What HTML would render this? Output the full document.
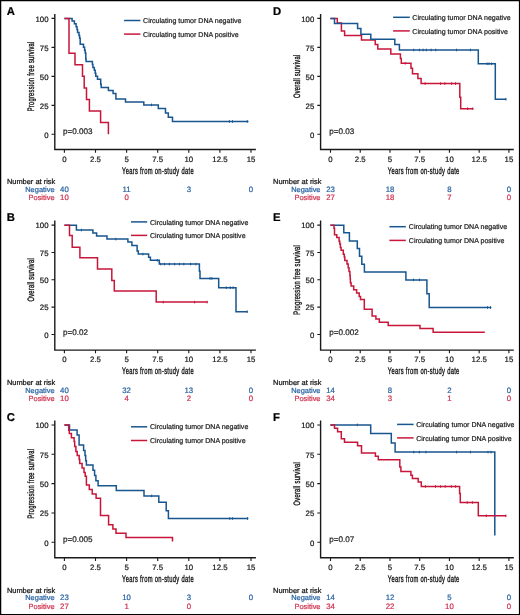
<!DOCTYPE html>
<html><head><meta charset="utf-8"><title>Kaplan-Meier curves</title>
<style>html,body{margin:0;padding:0;background:#fff;}body{width:520px;height:615px;overflow:hidden;font-family:"Liberation Sans",sans-serif;}svg{display:block;will-change:transform;}</style>
</head><body>
<svg width="520" height="615" viewBox="0 0 520 615" font-family="'Liberation Sans', sans-serif" text-rendering="geometricPrecision">
<rect x="0" y="0" width="520" height="615" fill="#fff"/>
<g><text stroke-linejoin="round" stroke-width="0.22" stroke="#000" x="6.8" y="14.8" font-size="11.3" font-weight="bold" fill="#000">A</text><path d="M54.8,14.7 V149.5 H255.2" fill="none" stroke="#1a1a1a" stroke-width="1.4" stroke-linecap="square"/><path d="M51.5,134.3 H54.8 M51.5,105.33 H54.8 M51.5,76.35 H54.8 M51.5,47.38 H54.8 M51.5,18.4 H54.8 M64.4,149.5 V152.7 M95.5,149.5 V152.7 M126.6,149.5 V152.7 M157.7,149.5 V152.7 M188.8,149.5 V152.7 M219.9,149.5 V152.7 M251,149.5 V152.7" stroke="#1a1a1a" stroke-width="1.1" fill="none"/><text stroke-linejoin="round" stroke-width="0.22" stroke="#1a1a1a" x="48.5" y="137.5" font-size="7.8" text-anchor="end" fill="#1a1a1a">0</text><text stroke-linejoin="round" stroke-width="0.22" stroke="#1a1a1a" x="48.5" y="108.53" font-size="7.8" text-anchor="end" fill="#1a1a1a">25</text><text stroke-linejoin="round" stroke-width="0.22" stroke="#1a1a1a" x="48.5" y="79.55" font-size="7.8" text-anchor="end" fill="#1a1a1a">50</text><text stroke-linejoin="round" stroke-width="0.22" stroke="#1a1a1a" x="48.5" y="50.58" font-size="7.8" text-anchor="end" fill="#1a1a1a">75</text><text stroke-linejoin="round" stroke-width="0.22" stroke="#1a1a1a" x="48.5" y="21.6" font-size="7.8" text-anchor="end" fill="#1a1a1a">100</text><text stroke-linejoin="round" stroke-width="0.22" stroke="#1a1a1a" x="64.4" y="161.6" font-size="7.8" text-anchor="middle" fill="#1a1a1a">0</text><text stroke-linejoin="round" stroke-width="0.22" stroke="#1a1a1a" x="95.5" y="161.6" font-size="7.8" text-anchor="middle" fill="#1a1a1a">2.5</text><text stroke-linejoin="round" stroke-width="0.22" stroke="#1a1a1a" x="126.6" y="161.6" font-size="7.8" text-anchor="middle" fill="#1a1a1a">5</text><text stroke-linejoin="round" stroke-width="0.22" stroke="#1a1a1a" x="157.7" y="161.6" font-size="7.8" text-anchor="middle" fill="#1a1a1a">7.5</text><text stroke-linejoin="round" stroke-width="0.22" stroke="#1a1a1a" x="188.8" y="161.6" font-size="7.8" text-anchor="middle" fill="#1a1a1a">10</text><text stroke-linejoin="round" stroke-width="0.22" stroke="#1a1a1a" x="219.9" y="161.6" font-size="7.8" text-anchor="middle" fill="#1a1a1a">12.5</text><text stroke-linejoin="round" stroke-width="0.22" stroke="#1a1a1a" x="251" y="161.6" font-size="7.8" text-anchor="middle" fill="#1a1a1a">15</text><text transform="translate(33.8,76.35) rotate(-90) scale(0.61,1)" font-size="9.4" font-weight="normal" letter-spacing="0.45" stroke="#1a1a1a" stroke-width="0.38" text-anchor="middle" fill="#1a1a1a">Progression free survival</text><text transform="translate(158,173.8) scale(0.605,1)" font-size="9.6" font-weight="normal" letter-spacing="0.5" stroke="#1a1a1a" stroke-width="0.4" text-anchor="middle" fill="#1a1a1a">Years from on-study date</text><path d="M124.1,20.5 H140.4" stroke="#18568f" stroke-width="1.5"/><path d="M124.1,34.1 H140.4" stroke="#c8163a" stroke-width="1.5"/><text stroke-linejoin="round" stroke-width="0.22" stroke="#222" x="143.1" y="23.1" font-size="7.05" fill="#222">Circulating tumor DNA negative</text><text stroke-linejoin="round" stroke-width="0.22" stroke="#222" x="143.1" y="36.7" font-size="7.05" fill="#222">Circulating tumor DNA positive</text><text stroke-linejoin="round" stroke-width="0.22" stroke="#222" x="63.1" y="134.3" font-size="8.1" fill="#222">p=0.003</text><text stroke-linejoin="round" stroke-width="0.22" stroke="#111" x="6.9" y="184.3" font-size="7.45" fill="#111">Number at risk</text><text stroke-linejoin="round" stroke-width="0.22" stroke="#2a64a2" x="54.6" y="192" font-size="7.45" text-anchor="end" fill="#2a64a2">Negative</text><text stroke-linejoin="round" stroke-width="0.22" stroke="#d03350" x="54.6" y="200.3" font-size="7.45" text-anchor="end" fill="#d03350">Positive</text><text stroke-linejoin="round" stroke-width="0.22" stroke="#2a64a2" x="64.4" y="192" font-size="7.8" text-anchor="middle" fill="#2a64a2">40</text><text stroke-linejoin="round" stroke-width="0.22" stroke="#d03350" x="64.4" y="200.3" font-size="7.8" text-anchor="middle" fill="#d03350">10</text><text stroke-linejoin="round" stroke-width="0.22" stroke="#2a64a2" x="126.6" y="192" font-size="7.8" text-anchor="middle" fill="#2a64a2">11</text><text stroke-linejoin="round" stroke-width="0.22" stroke="#d03350" x="126.6" y="200.3" font-size="7.8" text-anchor="middle" fill="#d03350">0</text><text stroke-linejoin="round" stroke-width="0.22" stroke="#2a64a2" x="188.8" y="192" font-size="7.8" text-anchor="middle" fill="#2a64a2">3</text><text stroke-linejoin="round" stroke-width="0.22" stroke="#2a64a2" x="251" y="192" font-size="7.8" text-anchor="middle" fill="#2a64a2">0</text><path d="M64.4,18.4 H72.1 V20.9 H74.4 V23.8 H76.1 V26.7 H77.0 V29.6 H77.6 V32.5 H79.0 V35.4 H79.6 V38.3 H80.2 V44.2 H83.5 V47.3 H84.6 V50.2 H85.2 V53.1 H85.8 V58.9 H86.1 V61.4 H92.4 V64.4 H92.9 V67.4 H94.3 V70.3 H95.2 V73.2 H95.8 V76.3 H97.5 V79.3 H100.7 V84.2 H101.2 V87.4 H108.4 V90.4 H113.1 V93.4 H115.9 V99.0 H125.5 V101.9 H143.8 V104.9 H158.3 V108.5 H165.5 V113.1 H168.3 V117.2 H172.5 V121.5 H248.5" fill="none" stroke="#18568f" stroke-width="1.5" stroke-linejoin="miter" stroke-linecap="butt"/><path d="M151.5,103.6 V106.2 M229.4,120.2 V122.8 M232.5,120.2 V122.8 M247.3,120.2 V122.8" stroke="#18568f" stroke-width="1.0" fill="none"/><path d="M64.4,18.4 H69.0 V53.2 H75.0 V64.8 H82.5 V76.3 H84.2 V87.9 H86.5 V99.5 H89.4 V111.1 H100.6 V122.6 H108.4 V134.3" fill="none" stroke="#c8163a" stroke-width="1.5" stroke-linejoin="miter" stroke-linecap="butt"/></g>
<g><text stroke-linejoin="round" stroke-width="0.22" stroke="#000" x="6.8" y="221.1" font-size="11.3" font-weight="bold" fill="#000">B</text><path d="M54.8,221.2 V350.1 H255.2" fill="none" stroke="#1a1a1a" stroke-width="1.4" stroke-linecap="square"/><path d="M51.5,334.5 H54.8 M51.5,307.15 H54.8 M51.5,279.8 H54.8 M51.5,252.45 H54.8 M51.5,225.1 H54.8 M64.4,350.1 V353.3 M95.5,350.1 V353.3 M126.6,350.1 V353.3 M157.7,350.1 V353.3 M188.8,350.1 V353.3 M219.9,350.1 V353.3 M251,350.1 V353.3" stroke="#1a1a1a" stroke-width="1.1" fill="none"/><text stroke-linejoin="round" stroke-width="0.22" stroke="#1a1a1a" x="48.5" y="337.7" font-size="7.8" text-anchor="end" fill="#1a1a1a">0</text><text stroke-linejoin="round" stroke-width="0.22" stroke="#1a1a1a" x="48.5" y="310.35" font-size="7.8" text-anchor="end" fill="#1a1a1a">25</text><text stroke-linejoin="round" stroke-width="0.22" stroke="#1a1a1a" x="48.5" y="283" font-size="7.8" text-anchor="end" fill="#1a1a1a">50</text><text stroke-linejoin="round" stroke-width="0.22" stroke="#1a1a1a" x="48.5" y="255.65" font-size="7.8" text-anchor="end" fill="#1a1a1a">75</text><text stroke-linejoin="round" stroke-width="0.22" stroke="#1a1a1a" x="48.5" y="228.3" font-size="7.8" text-anchor="end" fill="#1a1a1a">100</text><text stroke-linejoin="round" stroke-width="0.22" stroke="#1a1a1a" x="64.4" y="362.2" font-size="7.8" text-anchor="middle" fill="#1a1a1a">0</text><text stroke-linejoin="round" stroke-width="0.22" stroke="#1a1a1a" x="95.5" y="362.2" font-size="7.8" text-anchor="middle" fill="#1a1a1a">2.5</text><text stroke-linejoin="round" stroke-width="0.22" stroke="#1a1a1a" x="126.6" y="362.2" font-size="7.8" text-anchor="middle" fill="#1a1a1a">5</text><text stroke-linejoin="round" stroke-width="0.22" stroke="#1a1a1a" x="157.7" y="362.2" font-size="7.8" text-anchor="middle" fill="#1a1a1a">7.5</text><text stroke-linejoin="round" stroke-width="0.22" stroke="#1a1a1a" x="188.8" y="362.2" font-size="7.8" text-anchor="middle" fill="#1a1a1a">10</text><text stroke-linejoin="round" stroke-width="0.22" stroke="#1a1a1a" x="219.9" y="362.2" font-size="7.8" text-anchor="middle" fill="#1a1a1a">12.5</text><text stroke-linejoin="round" stroke-width="0.22" stroke="#1a1a1a" x="251" y="362.2" font-size="7.8" text-anchor="middle" fill="#1a1a1a">15</text><text transform="translate(33.8,279.8) rotate(-90) scale(0.61,1)" font-size="9.4" font-weight="normal" letter-spacing="0.45" stroke="#1a1a1a" stroke-width="0.38" text-anchor="middle" fill="#1a1a1a">Overall survival</text><text transform="translate(158,374.4) scale(0.605,1)" font-size="9.6" font-weight="normal" letter-spacing="0.5" stroke="#1a1a1a" stroke-width="0.4" text-anchor="middle" fill="#1a1a1a">Years from on-study date</text><path d="M131,221.9 H147.2" stroke="#18568f" stroke-width="1.5"/><path d="M131,235.4 H147.2" stroke="#c8163a" stroke-width="1.5"/><text stroke-linejoin="round" stroke-width="0.22" stroke="#222" x="150" y="224.5" font-size="7.05" fill="#222">Circulating tumor DNA negative</text><text stroke-linejoin="round" stroke-width="0.22" stroke="#222" x="150" y="238" font-size="7.05" fill="#222">Circulating tumor DNA positive</text><text stroke-linejoin="round" stroke-width="0.22" stroke="#222" x="63.1" y="334.5" font-size="8.1" fill="#222">p=0.02</text><text stroke-linejoin="round" stroke-width="0.22" stroke="#111" x="6.9" y="384.9" font-size="7.45" fill="#111">Number at risk</text><text stroke-linejoin="round" stroke-width="0.22" stroke="#2a64a2" x="54.6" y="392.6" font-size="7.45" text-anchor="end" fill="#2a64a2">Negative</text><text stroke-linejoin="round" stroke-width="0.22" stroke="#d03350" x="54.6" y="400.9" font-size="7.45" text-anchor="end" fill="#d03350">Positive</text><text stroke-linejoin="round" stroke-width="0.22" stroke="#2a64a2" x="64.4" y="392.6" font-size="7.8" text-anchor="middle" fill="#2a64a2">40</text><text stroke-linejoin="round" stroke-width="0.22" stroke="#d03350" x="64.4" y="400.9" font-size="7.8" text-anchor="middle" fill="#d03350">10</text><text stroke-linejoin="round" stroke-width="0.22" stroke="#2a64a2" x="126.6" y="392.6" font-size="7.8" text-anchor="middle" fill="#2a64a2">32</text><text stroke-linejoin="round" stroke-width="0.22" stroke="#d03350" x="126.6" y="400.9" font-size="7.8" text-anchor="middle" fill="#d03350">4</text><text stroke-linejoin="round" stroke-width="0.22" stroke="#2a64a2" x="188.8" y="392.6" font-size="7.8" text-anchor="middle" fill="#2a64a2">13</text><text stroke-linejoin="round" stroke-width="0.22" stroke="#d03350" x="188.8" y="400.9" font-size="7.8" text-anchor="middle" fill="#d03350">2</text><text stroke-linejoin="round" stroke-width="0.22" stroke="#2a64a2" x="251" y="392.6" font-size="7.8" text-anchor="middle" fill="#2a64a2">0</text><text stroke-linejoin="round" stroke-width="0.22" stroke="#d03350" x="251" y="400.9" font-size="7.8" text-anchor="middle" fill="#d03350">0</text><path d="M64.4,225.2 H76.4 V230.1 H92.9 V232.9 H96.6 V236.1 H107.0 V239.1 H127.9 V242.1 H131.9 V245.5 H137.1 V251.0 H138.3 V254.1 H148.6 V257.3 H150.4 V260.3 H159.3 V264.1 H199.4 V271.3 H200.0 V278.4 H218.7 V287.7 H236.0 V311.7 H247.6" fill="none" stroke="#18568f" stroke-width="1.5" stroke-linejoin="miter" stroke-linecap="butt"/><path d="M81.4,228.8 V231.4 M115.8,237.8 V240.4 M142.9,252.8 V255.4 M157.3,259 V261.6 M160.8,262.8 V265.4 M164.4,262.8 V265.4 M169.4,262.8 V265.4 M174.7,262.8 V265.4 M179.5,262.8 V265.4 M183.8,262.8 V265.4 M190.6,262.8 V265.4 M195.9,262.8 V265.4 M210,277.1 V279.7 M211.9,277.1 V279.7 M226.3,286.4 V289 M230.2,286.4 V289 M233.1,286.4 V289 M247.1,310.4 V313" stroke="#18568f" stroke-width="1.0" fill="none"/><path d="M64.4,225.2 H69.5 V235.6 H72.2 V247.3 H79.9 V257.8 H97.5 V269.0 H111.8 V280.4 H114.3 V291.0 H156.2 V302.1 H207.6" fill="none" stroke="#c8163a" stroke-width="1.5" stroke-linejoin="miter" stroke-linecap="butt"/><path d="M163.2,300.8 V303.4 M194.6,300.8 V303.4 M207.1,300.8 V303.4" stroke="#c8163a" stroke-width="1.0" fill="none"/></g>
<g><text stroke-linejoin="round" stroke-width="0.22" stroke="#000" x="6.8" y="421" font-size="11.3" font-weight="bold" fill="#000">C</text><path d="M54.8,421.2 V557.7 H255.2" fill="none" stroke="#1a1a1a" stroke-width="1.4" stroke-linecap="square"/><path d="M51.5,542.3 H54.8 M51.5,512.97 H54.8 M51.5,483.65 H54.8 M51.5,454.32 H54.8 M51.5,425 H54.8 M64.4,557.7 V560.9 M95.5,557.7 V560.9 M126.6,557.7 V560.9 M157.7,557.7 V560.9 M188.8,557.7 V560.9 M219.9,557.7 V560.9 M251,557.7 V560.9" stroke="#1a1a1a" stroke-width="1.1" fill="none"/><text stroke-linejoin="round" stroke-width="0.22" stroke="#1a1a1a" x="48.5" y="545.5" font-size="7.8" text-anchor="end" fill="#1a1a1a">0</text><text stroke-linejoin="round" stroke-width="0.22" stroke="#1a1a1a" x="48.5" y="516.17" font-size="7.8" text-anchor="end" fill="#1a1a1a">25</text><text stroke-linejoin="round" stroke-width="0.22" stroke="#1a1a1a" x="48.5" y="486.85" font-size="7.8" text-anchor="end" fill="#1a1a1a">50</text><text stroke-linejoin="round" stroke-width="0.22" stroke="#1a1a1a" x="48.5" y="457.52" font-size="7.8" text-anchor="end" fill="#1a1a1a">75</text><text stroke-linejoin="round" stroke-width="0.22" stroke="#1a1a1a" x="48.5" y="428.2" font-size="7.8" text-anchor="end" fill="#1a1a1a">100</text><text stroke-linejoin="round" stroke-width="0.22" stroke="#1a1a1a" x="64.4" y="569.8" font-size="7.8" text-anchor="middle" fill="#1a1a1a">0</text><text stroke-linejoin="round" stroke-width="0.22" stroke="#1a1a1a" x="95.5" y="569.8" font-size="7.8" text-anchor="middle" fill="#1a1a1a">2.5</text><text stroke-linejoin="round" stroke-width="0.22" stroke="#1a1a1a" x="126.6" y="569.8" font-size="7.8" text-anchor="middle" fill="#1a1a1a">5</text><text stroke-linejoin="round" stroke-width="0.22" stroke="#1a1a1a" x="157.7" y="569.8" font-size="7.8" text-anchor="middle" fill="#1a1a1a">7.5</text><text stroke-linejoin="round" stroke-width="0.22" stroke="#1a1a1a" x="188.8" y="569.8" font-size="7.8" text-anchor="middle" fill="#1a1a1a">10</text><text stroke-linejoin="round" stroke-width="0.22" stroke="#1a1a1a" x="219.9" y="569.8" font-size="7.8" text-anchor="middle" fill="#1a1a1a">12.5</text><text stroke-linejoin="round" stroke-width="0.22" stroke="#1a1a1a" x="251" y="569.8" font-size="7.8" text-anchor="middle" fill="#1a1a1a">15</text><text transform="translate(33.8,483.65) rotate(-90) scale(0.61,1)" font-size="9.4" font-weight="normal" letter-spacing="0.45" stroke="#1a1a1a" stroke-width="0.38" text-anchor="middle" fill="#1a1a1a">Progression free survival</text><text transform="translate(158,582) scale(0.605,1)" font-size="9.6" font-weight="normal" letter-spacing="0.5" stroke="#1a1a1a" stroke-width="0.4" text-anchor="middle" fill="#1a1a1a">Years from on-study date</text><path d="M131,426.8 H147.2" stroke="#18568f" stroke-width="1.5"/><path d="M131,440.5 H147.2" stroke="#c8163a" stroke-width="1.5"/><text stroke-linejoin="round" stroke-width="0.22" stroke="#222" x="150" y="429.4" font-size="7.05" fill="#222">Circulating tumor DNA negative</text><text stroke-linejoin="round" stroke-width="0.22" stroke="#222" x="150" y="443.1" font-size="7.05" fill="#222">Circulating tumor DNA positive</text><text stroke-linejoin="round" stroke-width="0.22" stroke="#222" x="63.1" y="542.3" font-size="8.1" fill="#222">p=0.005</text><text stroke-linejoin="round" stroke-width="0.22" stroke="#111" x="6.9" y="592.5" font-size="7.45" fill="#111">Number at risk</text><text stroke-linejoin="round" stroke-width="0.22" stroke="#2a64a2" x="54.6" y="600.2" font-size="7.45" text-anchor="end" fill="#2a64a2">Negative</text><text stroke-linejoin="round" stroke-width="0.22" stroke="#d03350" x="54.6" y="608.5" font-size="7.45" text-anchor="end" fill="#d03350">Positive</text><text stroke-linejoin="round" stroke-width="0.22" stroke="#2a64a2" x="64.4" y="600.2" font-size="7.8" text-anchor="middle" fill="#2a64a2">23</text><text stroke-linejoin="round" stroke-width="0.22" stroke="#d03350" x="64.4" y="608.5" font-size="7.8" text-anchor="middle" fill="#d03350">27</text><text stroke-linejoin="round" stroke-width="0.22" stroke="#2a64a2" x="126.6" y="600.2" font-size="7.8" text-anchor="middle" fill="#2a64a2">10</text><text stroke-linejoin="round" stroke-width="0.22" stroke="#d03350" x="126.6" y="608.5" font-size="7.8" text-anchor="middle" fill="#d03350">1</text><text stroke-linejoin="round" stroke-width="0.22" stroke="#2a64a2" x="188.8" y="600.2" font-size="7.8" text-anchor="middle" fill="#2a64a2">3</text><text stroke-linejoin="round" stroke-width="0.22" stroke="#d03350" x="188.8" y="608.5" font-size="7.8" text-anchor="middle" fill="#d03350">0</text><text stroke-linejoin="round" stroke-width="0.22" stroke="#2a64a2" x="251" y="600.2" font-size="7.8" text-anchor="middle" fill="#2a64a2">0</text><path d="M64.4,425.0 H69.5 V430.0 H77.1 V435.1 H79.1 V445.1 H83.6 V450.4 H85.0 V455.6 H85.7 V460.7 H86.4 V465.1 H93.0 V470.3 H94.6 V475.6 H95.9 V480.8 H98.1 V485.7 H116.3 V490.5 H144.0 V495.9 H158.8 V502.2 H166.2 V510.7 H168.4 V518.5 H248.4" fill="none" stroke="#18568f" stroke-width="1.5" stroke-linejoin="miter" stroke-linecap="butt"/><path d="M151.7,494.6 V497.2 M229.8,517.2 V519.8 M232.6,517.2 V519.8 M247.5,517.2 V519.8" stroke="#18568f" stroke-width="1.0" fill="none"/><path d="M64.4,425.0 H68.7 V430.2 H69.3 V433.5 H71.4 V437.8 H74.1 V441.5 H74.7 V446.4 H75.9 V451.4 H77.2 V455.6 H79.2 V459.5 H79.7 V463.4 H82.1 V468.0 H84.0 V472.5 H85.2 V476.3 H86.4 V485.1 H89.3 V489.5 H92.2 V493.9 H96.1 V498.3 H100.5 V515.6 H108.6 V524.8 H112.9 V528.9 H116.0 V533.2 H126.0 V537.6 H172.5 V541.6" fill="none" stroke="#c8163a" stroke-width="1.5" stroke-linejoin="miter" stroke-linecap="butt"/></g>
<g><text stroke-linejoin="round" stroke-width="0.22" stroke="#000" x="272.9" y="14.8" font-size="11.3" font-weight="bold" fill="#000">D</text><path d="M320.6,14.7 V149.5 H513.1" fill="none" stroke="#1a1a1a" stroke-width="1.4" stroke-linecap="square"/><path d="M317.3,134.3 H320.6 M317.3,105.33 H320.6 M317.3,76.35 H320.6 M317.3,47.38 H320.6 M317.3,18.4 H320.6 M330.5,149.5 V152.7 M360.23,149.5 V152.7 M389.97,149.5 V152.7 M419.7,149.5 V152.7 M449.43,149.5 V152.7 M479.17,149.5 V152.7 M508.9,149.5 V152.7" stroke="#1a1a1a" stroke-width="1.1" fill="none"/><text stroke-linejoin="round" stroke-width="0.22" stroke="#1a1a1a" x="314.3" y="137.5" font-size="7.8" text-anchor="end" fill="#1a1a1a">0</text><text stroke-linejoin="round" stroke-width="0.22" stroke="#1a1a1a" x="314.3" y="108.53" font-size="7.8" text-anchor="end" fill="#1a1a1a">25</text><text stroke-linejoin="round" stroke-width="0.22" stroke="#1a1a1a" x="314.3" y="79.55" font-size="7.8" text-anchor="end" fill="#1a1a1a">50</text><text stroke-linejoin="round" stroke-width="0.22" stroke="#1a1a1a" x="314.3" y="50.58" font-size="7.8" text-anchor="end" fill="#1a1a1a">75</text><text stroke-linejoin="round" stroke-width="0.22" stroke="#1a1a1a" x="314.3" y="21.6" font-size="7.8" text-anchor="end" fill="#1a1a1a">100</text><text stroke-linejoin="round" stroke-width="0.22" stroke="#1a1a1a" x="330.5" y="161.6" font-size="7.8" text-anchor="middle" fill="#1a1a1a">0</text><text stroke-linejoin="round" stroke-width="0.22" stroke="#1a1a1a" x="360.23" y="161.6" font-size="7.8" text-anchor="middle" fill="#1a1a1a">2.5</text><text stroke-linejoin="round" stroke-width="0.22" stroke="#1a1a1a" x="389.97" y="161.6" font-size="7.8" text-anchor="middle" fill="#1a1a1a">5</text><text stroke-linejoin="round" stroke-width="0.22" stroke="#1a1a1a" x="419.7" y="161.6" font-size="7.8" text-anchor="middle" fill="#1a1a1a">7.5</text><text stroke-linejoin="round" stroke-width="0.22" stroke="#1a1a1a" x="449.43" y="161.6" font-size="7.8" text-anchor="middle" fill="#1a1a1a">10</text><text stroke-linejoin="round" stroke-width="0.22" stroke="#1a1a1a" x="479.17" y="161.6" font-size="7.8" text-anchor="middle" fill="#1a1a1a">12.5</text><text stroke-linejoin="round" stroke-width="0.22" stroke="#1a1a1a" x="508.9" y="161.6" font-size="7.8" text-anchor="middle" fill="#1a1a1a">15</text><text transform="translate(299.6,76.35) rotate(-90) scale(0.61,1)" font-size="9.4" font-weight="normal" letter-spacing="0.45" stroke="#1a1a1a" stroke-width="0.38" text-anchor="middle" fill="#1a1a1a">Overall survival</text><text transform="translate(423.7,173.8) scale(0.605,1)" font-size="9.6" font-weight="normal" letter-spacing="0.5" stroke="#1a1a1a" stroke-width="0.4" text-anchor="middle" fill="#1a1a1a">Years from on-study date</text><path d="M393.1,17.3 H409.8" stroke="#18568f" stroke-width="1.5"/><path d="M393.1,30.9 H409.8" stroke="#c8163a" stroke-width="1.5"/><text stroke-linejoin="round" stroke-width="0.22" stroke="#222" x="412.3" y="19.9" font-size="7.05" fill="#222">Circulating tumor DNA negative</text><text stroke-linejoin="round" stroke-width="0.22" stroke="#222" x="412.3" y="33.5" font-size="7.05" fill="#222">Circulating tumor DNA positive</text><text stroke-linejoin="round" stroke-width="0.22" stroke="#222" x="329.2" y="134.3" font-size="8.1" fill="#222">p=0.03</text><text stroke-linejoin="round" stroke-width="0.22" stroke="#111" x="273.1" y="184.3" font-size="7.45" fill="#111">Number at risk</text><text stroke-linejoin="round" stroke-width="0.22" stroke="#2a64a2" x="320.5" y="192" font-size="7.45" text-anchor="end" fill="#2a64a2">Negative</text><text stroke-linejoin="round" stroke-width="0.22" stroke="#d03350" x="320.5" y="200.3" font-size="7.45" text-anchor="end" fill="#d03350">Positive</text><text stroke-linejoin="round" stroke-width="0.22" stroke="#2a64a2" x="330.5" y="192" font-size="7.8" text-anchor="middle" fill="#2a64a2">23</text><text stroke-linejoin="round" stroke-width="0.22" stroke="#d03350" x="330.5" y="200.3" font-size="7.8" text-anchor="middle" fill="#d03350">27</text><text stroke-linejoin="round" stroke-width="0.22" stroke="#2a64a2" x="389.97" y="192" font-size="7.8" text-anchor="middle" fill="#2a64a2">18</text><text stroke-linejoin="round" stroke-width="0.22" stroke="#d03350" x="389.97" y="200.3" font-size="7.8" text-anchor="middle" fill="#d03350">18</text><text stroke-linejoin="round" stroke-width="0.22" stroke="#2a64a2" x="449.43" y="192" font-size="7.8" text-anchor="middle" fill="#2a64a2">8</text><text stroke-linejoin="round" stroke-width="0.22" stroke="#d03350" x="449.43" y="200.3" font-size="7.8" text-anchor="middle" fill="#d03350">7</text><text stroke-linejoin="round" stroke-width="0.22" stroke="#2a64a2" x="508.9" y="192" font-size="7.8" text-anchor="middle" fill="#2a64a2">0</text><text stroke-linejoin="round" stroke-width="0.22" stroke="#d03350" x="508.9" y="200.3" font-size="7.8" text-anchor="middle" fill="#d03350">0</text><path d="M330.4,18.4 H337.3 V23.0 H341.4 V31.1 H344.6 V35.5 H361.5 V40.1 H375.2 V44.6 H377.8 V49.0 H390.8 V54.0 H400.4 V58.4 H401.3 V63.3 H411.0 V68.3 H412.5 V73.7 H417.9 V78.6 H421.1 V83.6 H459.8 V97.2 H460.7 V108.7 H473.2" fill="none" stroke="#c8163a" stroke-width="1.5" stroke-linejoin="miter" stroke-linecap="butt"/><path d="M405.2,62 V64.6 M425.1,82.3 V84.9 M440.6,82.3 V84.9 M444.8,82.3 V84.9 M451.6,82.3 V84.9 M455.5,82.3 V84.9 M467.6,107.4 V110 M472.8,107.4 V110" stroke="#c8163a" stroke-width="1.0" fill="none"/><path d="M330.4,18.4 H334.5 V23.6 H357.6 V28.5 H360.9 V34.3 H370.8 V39.3 H394.8 V44.6 H399.4 V50.0 H478.3 V63.8 H495.3 V99.2 H506.2" fill="none" stroke="#18568f" stroke-width="1.5" stroke-linejoin="miter" stroke-linecap="butt"/><path d="M413.8,48.7 V51.3 M419.4,48.7 V51.3 M423.1,48.7 V51.3 M426.3,48.7 V51.3 M431.1,48.7 V51.3 M435.8,48.7 V51.3 M456.6,48.7 V51.3 M470.5,48.7 V51.3 M487.1,62.5 V65.1 M489,62.5 V65.1 M491.6,62.5 V65.1 M505.9,97.9 V100.5" stroke="#18568f" stroke-width="1.0" fill="none"/></g>
<g><text stroke-linejoin="round" stroke-width="0.22" stroke="#000" x="272.9" y="221.1" font-size="11.3" font-weight="bold" fill="#000">E</text><path d="M320.6,221.2 V350.1 H513.1" fill="none" stroke="#1a1a1a" stroke-width="1.4" stroke-linecap="square"/><path d="M317.3,334.5 H320.6 M317.3,307.15 H320.6 M317.3,279.8 H320.6 M317.3,252.45 H320.6 M317.3,225.1 H320.6 M330.5,350.1 V353.3 M360.23,350.1 V353.3 M389.97,350.1 V353.3 M419.7,350.1 V353.3 M449.43,350.1 V353.3 M479.17,350.1 V353.3 M508.9,350.1 V353.3" stroke="#1a1a1a" stroke-width="1.1" fill="none"/><text stroke-linejoin="round" stroke-width="0.22" stroke="#1a1a1a" x="314.3" y="337.7" font-size="7.8" text-anchor="end" fill="#1a1a1a">0</text><text stroke-linejoin="round" stroke-width="0.22" stroke="#1a1a1a" x="314.3" y="310.35" font-size="7.8" text-anchor="end" fill="#1a1a1a">25</text><text stroke-linejoin="round" stroke-width="0.22" stroke="#1a1a1a" x="314.3" y="283" font-size="7.8" text-anchor="end" fill="#1a1a1a">50</text><text stroke-linejoin="round" stroke-width="0.22" stroke="#1a1a1a" x="314.3" y="255.65" font-size="7.8" text-anchor="end" fill="#1a1a1a">75</text><text stroke-linejoin="round" stroke-width="0.22" stroke="#1a1a1a" x="314.3" y="228.3" font-size="7.8" text-anchor="end" fill="#1a1a1a">100</text><text stroke-linejoin="round" stroke-width="0.22" stroke="#1a1a1a" x="330.5" y="362.2" font-size="7.8" text-anchor="middle" fill="#1a1a1a">0</text><text stroke-linejoin="round" stroke-width="0.22" stroke="#1a1a1a" x="360.23" y="362.2" font-size="7.8" text-anchor="middle" fill="#1a1a1a">2.5</text><text stroke-linejoin="round" stroke-width="0.22" stroke="#1a1a1a" x="389.97" y="362.2" font-size="7.8" text-anchor="middle" fill="#1a1a1a">5</text><text stroke-linejoin="round" stroke-width="0.22" stroke="#1a1a1a" x="419.7" y="362.2" font-size="7.8" text-anchor="middle" fill="#1a1a1a">7.5</text><text stroke-linejoin="round" stroke-width="0.22" stroke="#1a1a1a" x="449.43" y="362.2" font-size="7.8" text-anchor="middle" fill="#1a1a1a">10</text><text stroke-linejoin="round" stroke-width="0.22" stroke="#1a1a1a" x="479.17" y="362.2" font-size="7.8" text-anchor="middle" fill="#1a1a1a">12.5</text><text stroke-linejoin="round" stroke-width="0.22" stroke="#1a1a1a" x="508.9" y="362.2" font-size="7.8" text-anchor="middle" fill="#1a1a1a">15</text><text transform="translate(299.6,279.8) rotate(-90) scale(0.61,1)" font-size="9.4" font-weight="normal" letter-spacing="0.45" stroke="#1a1a1a" stroke-width="0.38" text-anchor="middle" fill="#1a1a1a">Progression free survival</text><text transform="translate(423.7,374.4) scale(0.605,1)" font-size="9.6" font-weight="normal" letter-spacing="0.5" stroke="#1a1a1a" stroke-width="0.4" text-anchor="middle" fill="#1a1a1a">Years from on-study date</text><path d="M389.4,226.7 H405.8" stroke="#18568f" stroke-width="1.5"/><path d="M389.4,240.4 H405.8" stroke="#c8163a" stroke-width="1.5"/><text stroke-linejoin="round" stroke-width="0.22" stroke="#222" x="408.8" y="229.3" font-size="7.05" fill="#222">Circulating tumor DNA negative</text><text stroke-linejoin="round" stroke-width="0.22" stroke="#222" x="408.8" y="243" font-size="7.05" fill="#222">Circulating tumor DNA positive</text><text stroke-linejoin="round" stroke-width="0.22" stroke="#222" x="329.2" y="334.5" font-size="8.1" fill="#222">p=0.002</text><text stroke-linejoin="round" stroke-width="0.22" stroke="#111" x="273.1" y="384.9" font-size="7.45" fill="#111">Number at risk</text><text stroke-linejoin="round" stroke-width="0.22" stroke="#2a64a2" x="320.5" y="392.6" font-size="7.45" text-anchor="end" fill="#2a64a2">Negative</text><text stroke-linejoin="round" stroke-width="0.22" stroke="#d03350" x="320.5" y="400.9" font-size="7.45" text-anchor="end" fill="#d03350">Positive</text><text stroke-linejoin="round" stroke-width="0.22" stroke="#2a64a2" x="330.5" y="392.6" font-size="7.8" text-anchor="middle" fill="#2a64a2">14</text><text stroke-linejoin="round" stroke-width="0.22" stroke="#d03350" x="330.5" y="400.9" font-size="7.8" text-anchor="middle" fill="#d03350">34</text><text stroke-linejoin="round" stroke-width="0.22" stroke="#2a64a2" x="389.97" y="392.6" font-size="7.8" text-anchor="middle" fill="#2a64a2">8</text><text stroke-linejoin="round" stroke-width="0.22" stroke="#d03350" x="389.97" y="400.9" font-size="7.8" text-anchor="middle" fill="#d03350">3</text><text stroke-linejoin="round" stroke-width="0.22" stroke="#2a64a2" x="449.43" y="392.6" font-size="7.8" text-anchor="middle" fill="#2a64a2">2</text><text stroke-linejoin="round" stroke-width="0.22" stroke="#d03350" x="449.43" y="400.9" font-size="7.8" text-anchor="middle" fill="#d03350">1</text><text stroke-linejoin="round" stroke-width="0.22" stroke="#2a64a2" x="508.9" y="392.6" font-size="7.8" text-anchor="middle" fill="#2a64a2">0</text><text stroke-linejoin="round" stroke-width="0.22" stroke="#d03350" x="508.9" y="400.9" font-size="7.8" text-anchor="middle" fill="#d03350">0</text><path d="M330.4,225.2 H343.8 V232.8 H349.4 V241.1 H357.3 V248.5 H359.5 V256.3 H361.8 V264.3 H364.4 V272.1 H405.9 V279.9 H426.9 V293.8 H429.2 V307.5 H491.4" fill="none" stroke="#18568f" stroke-width="1.5" stroke-linejoin="miter" stroke-linecap="butt"/><path d="M413.4,278.6 V281.2 M419.5,278.6 V281.2 M487.5,306.2 V308.8 M490.5,306.2 V308.8" stroke="#18568f" stroke-width="1.0" fill="none"/><path d="M330.4,225.2 H334.0 V228.2 H334.5 V234.7 H336.8 V237.6 H339.1 V241.2 H339.8 V244.1 H340.4 V247.4 H341.1 V250.3 H343.3 V254.2 H344.3 V257.1 H344.8 V260.4 H347.0 V264.1 H348.2 V267.8 H349.0 V271.5 H349.9 V275.5 H350.2 V279.0 H350.4 V282.8 H351.1 V286.1 H353.7 V289.7 H356.6 V293.0 H359.2 V296.5 H360.5 V299.5 H364.3 V309.3 H372.1 V316.0 H375.9 V319.1 H379.3 V322.2 H388.2 V325.4 H420.0 V328.5 H433.1 V332.3 H484.8" fill="none" stroke="#c8163a" stroke-width="1.5" stroke-linejoin="miter" stroke-linecap="butt"/></g>
<g><text stroke-linejoin="round" stroke-width="0.22" stroke="#000" x="272.9" y="421" font-size="11.3" font-weight="bold" fill="#000">F</text><path d="M320.6,421.2 V557.7 H513.1" fill="none" stroke="#1a1a1a" stroke-width="1.4" stroke-linecap="square"/><path d="M317.3,542.3 H320.6 M317.3,512.97 H320.6 M317.3,483.65 H320.6 M317.3,454.32 H320.6 M317.3,425 H320.6 M330.5,557.7 V560.9 M360.23,557.7 V560.9 M389.97,557.7 V560.9 M419.7,557.7 V560.9 M449.43,557.7 V560.9 M479.17,557.7 V560.9 M508.9,557.7 V560.9" stroke="#1a1a1a" stroke-width="1.1" fill="none"/><text stroke-linejoin="round" stroke-width="0.22" stroke="#1a1a1a" x="314.3" y="545.5" font-size="7.8" text-anchor="end" fill="#1a1a1a">0</text><text stroke-linejoin="round" stroke-width="0.22" stroke="#1a1a1a" x="314.3" y="516.17" font-size="7.8" text-anchor="end" fill="#1a1a1a">25</text><text stroke-linejoin="round" stroke-width="0.22" stroke="#1a1a1a" x="314.3" y="486.85" font-size="7.8" text-anchor="end" fill="#1a1a1a">50</text><text stroke-linejoin="round" stroke-width="0.22" stroke="#1a1a1a" x="314.3" y="457.52" font-size="7.8" text-anchor="end" fill="#1a1a1a">75</text><text stroke-linejoin="round" stroke-width="0.22" stroke="#1a1a1a" x="314.3" y="428.2" font-size="7.8" text-anchor="end" fill="#1a1a1a">100</text><text stroke-linejoin="round" stroke-width="0.22" stroke="#1a1a1a" x="330.5" y="569.8" font-size="7.8" text-anchor="middle" fill="#1a1a1a">0</text><text stroke-linejoin="round" stroke-width="0.22" stroke="#1a1a1a" x="360.23" y="569.8" font-size="7.8" text-anchor="middle" fill="#1a1a1a">2.5</text><text stroke-linejoin="round" stroke-width="0.22" stroke="#1a1a1a" x="389.97" y="569.8" font-size="7.8" text-anchor="middle" fill="#1a1a1a">5</text><text stroke-linejoin="round" stroke-width="0.22" stroke="#1a1a1a" x="419.7" y="569.8" font-size="7.8" text-anchor="middle" fill="#1a1a1a">7.5</text><text stroke-linejoin="round" stroke-width="0.22" stroke="#1a1a1a" x="449.43" y="569.8" font-size="7.8" text-anchor="middle" fill="#1a1a1a">10</text><text stroke-linejoin="round" stroke-width="0.22" stroke="#1a1a1a" x="479.17" y="569.8" font-size="7.8" text-anchor="middle" fill="#1a1a1a">12.5</text><text stroke-linejoin="round" stroke-width="0.22" stroke="#1a1a1a" x="508.9" y="569.8" font-size="7.8" text-anchor="middle" fill="#1a1a1a">15</text><text transform="translate(299.6,483.65) rotate(-90) scale(0.61,1)" font-size="9.4" font-weight="normal" letter-spacing="0.45" stroke="#1a1a1a" stroke-width="0.38" text-anchor="middle" fill="#1a1a1a">Overall survival</text><text transform="translate(423.7,582) scale(0.605,1)" font-size="9.6" font-weight="normal" letter-spacing="0.5" stroke="#1a1a1a" stroke-width="0.4" text-anchor="middle" fill="#1a1a1a">Years from on-study date</text><path d="M397.1,424.4 H413.6" stroke="#18568f" stroke-width="1.5"/><path d="M397.1,437.9 H413.6" stroke="#c8163a" stroke-width="1.5"/><text stroke-linejoin="round" stroke-width="0.22" stroke="#222" x="416.2" y="427" font-size="7.05" fill="#222">Circulating tumor DNA negative</text><text stroke-linejoin="round" stroke-width="0.22" stroke="#222" x="416.2" y="440.5" font-size="7.05" fill="#222">Circulating tumor DNA positive</text><text stroke-linejoin="round" stroke-width="0.22" stroke="#222" x="329.2" y="542.3" font-size="8.1" fill="#222">p=0.07</text><text stroke-linejoin="round" stroke-width="0.22" stroke="#111" x="273.1" y="592.5" font-size="7.45" fill="#111">Number at risk</text><text stroke-linejoin="round" stroke-width="0.22" stroke="#2a64a2" x="320.5" y="600.2" font-size="7.45" text-anchor="end" fill="#2a64a2">Negative</text><text stroke-linejoin="round" stroke-width="0.22" stroke="#d03350" x="320.5" y="608.5" font-size="7.45" text-anchor="end" fill="#d03350">Positive</text><text stroke-linejoin="round" stroke-width="0.22" stroke="#2a64a2" x="330.5" y="600.2" font-size="7.8" text-anchor="middle" fill="#2a64a2">14</text><text stroke-linejoin="round" stroke-width="0.22" stroke="#d03350" x="330.5" y="608.5" font-size="7.8" text-anchor="middle" fill="#d03350">34</text><text stroke-linejoin="round" stroke-width="0.22" stroke="#2a64a2" x="389.97" y="600.2" font-size="7.8" text-anchor="middle" fill="#2a64a2">12</text><text stroke-linejoin="round" stroke-width="0.22" stroke="#d03350" x="389.97" y="608.5" font-size="7.8" text-anchor="middle" fill="#d03350">22</text><text stroke-linejoin="round" stroke-width="0.22" stroke="#2a64a2" x="449.43" y="600.2" font-size="7.8" text-anchor="middle" fill="#2a64a2">5</text><text stroke-linejoin="round" stroke-width="0.22" stroke="#d03350" x="449.43" y="608.5" font-size="7.8" text-anchor="middle" fill="#d03350">10</text><text stroke-linejoin="round" stroke-width="0.22" stroke="#2a64a2" x="508.9" y="600.2" font-size="7.8" text-anchor="middle" fill="#2a64a2">0</text><text stroke-linejoin="round" stroke-width="0.22" stroke="#d03350" x="508.9" y="608.5" font-size="7.8" text-anchor="middle" fill="#d03350">0</text><path d="M330.4,424.9 H370.7 V433.4 H391.3 V442.9 H395.1 V452.1 H494.8 V535.4" fill="none" stroke="#18568f" stroke-width="1.5" stroke-linejoin="miter" stroke-linecap="butt"/><path d="M357.3,423.6 V426.2 M413.8,450.8 V453.4 M419.4,450.8 V453.4 M425.9,450.8 V453.4 M456.6,450.8 V453.4 M470.5,450.8 V453.4 M488,450.8 V453.4 M491,450.8 V453.4" stroke="#18568f" stroke-width="1.0" fill="none"/><path d="M330.4,424.9 H334.5 V428.3 H337.6 V431.7 H341.3 V438.8 H344.5 V442.3 H357.6 V445.8 H361.5 V453.0 H375.4 V456.3 H378.3 V459.8 H399.8 V467.1 H400.9 V471.4 H410.9 V475.2 H412.4 V478.6 H418.2 V482.1 H421.3 V486.5 H459.6 V493.6 H460.3 V502.5 H478.3 V515.8 H506.2" fill="none" stroke="#c8163a" stroke-width="1.5" stroke-linejoin="miter" stroke-linecap="butt"/><path d="M425.4,485.2 V487.8 M435.5,485.2 V487.8 M440.6,485.2 V487.8 M445.2,485.2 V487.8 M451.3,485.2 V487.8 M455.6,485.2 V487.8 M467.2,501.2 V503.8 M472.4,501.2 V503.8 M486.3,514.5 V517.1 M505.8,514.5 V517.1" stroke="#c8163a" stroke-width="1.0" fill="none"/></g>
<path d="M0.6,0 V615 M0,0.6 H520" stroke="#000" stroke-width="1.3" fill="none"/><path d="M519.45,0 V615 M0,614.45 H520" stroke="#000" stroke-width="1.1" fill="none"/>
</svg>
</body></html>
